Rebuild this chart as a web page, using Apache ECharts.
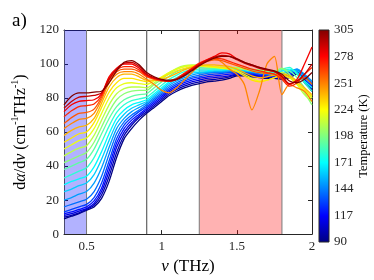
<!DOCTYPE html>
<html><head><meta charset="utf-8">
<script src="https://cdn.jsdelivr.net/npm/echarts@6/dist/echarts.min.js"></script>
<style>html,body{margin:0;padding:0;background:#fff}#c{width:374px;height:280px}</style>
</head><body><div id="c"></div>
<script>
// frequency grid (THz)
const freq = [0.35,0.40,0.45,0.50,0.55,0.60,0.65,0.70,0.75,0.80,0.85,0.90,0.95,1.00,1.05,1.10,1.15,1.20,1.25,1.30,1.35,1.40,1.45,1.50,1.55,1.60,1.65,1.70,1.75,1.80,1.85,1.90,1.95,2.00];
// temperatures (K)
const temps = [90,100,110,120,130,140,150,160,170,180,190,200,210,220,230,240,250,260,270,280,290,305];
// dα/dν curves, one per temperature
const t090 = [9,10.5,12,14,16,21,31,45,56,62,67,71,74.5,78,81.5,84,86,87.5,88.5,89.5,90,90.5,91.5,93,93,92.5,92,91.5,91.5,91,92,94,89,84];
const t100 = [10,11,12.5,14.5,17,23,34,48,58,64,68.5,72,75.5,79,82.5,85,87,88.5,89.5,90.5,91,91.5,92.5,93.5,93.5,93,92.5,92,92,91.5,93,95,90,85];
const t110 = [11,12,13.5,15,18,25,37,51,60,65.5,69.5,73,76.5,80,83.5,86,88,89.5,90.5,91.5,92,92.5,93,94,94,93.5,93,92.5,92,92,93.5,95.5,91,86];
const t120 = [12,13,14.5,16,19.5,27,40,53.5,62,67,70.5,74,77.5,81,84.5,87,89,90.5,91.5,92.5,93,93.5,94,94.5,94.5,94,93.5,93,92.5,93,94,96,92,87];
const t130 = [13,14.5,16,17.5,21.5,30,43,56,64,68.5,72,75,78.5,82,85.5,88,90,91.5,92.5,93.5,94,94.5,95,95,95,94.5,94,93.5,93,93.5,95,96.5,93,88];
const t140 = [16,17.5,19,20.5,25,34,47,59,66,70,73,76,79.5,83,86.5,89,91,92.5,93.5,94.5,95,95,95.5,95.5,95.5,95,94.5,94,93.5,94,95.5,97,93.5,89];
const t150 = [20,21.5,23.5,25,30,39,51,62,68,72,74.5,77,80.5,84,87.5,90,92,93.5,94.5,95,95.5,95.5,96,96,96,95.5,95,94.5,94,94.5,96,97,94,90];
const t160 = [25,26.5,28.5,30,35,44,55,65,70.5,74,76,78,81.5,85,88.5,91,93,94.5,95,95.5,96,96,96.5,96.5,96,95.5,95,94.5,94.5,95,96,96,92,88];
const t170 = [29,31,32.5,34,39.5,48.5,59,68,73,76,77.5,79,82.5,86,89.5,92,94,95.5,96,96,96.5,96.5,97,97,96.5,96,95.5,95,95,96,97,95,90,86];
const t180 = [33,35,37,39,45,54,63.5,71.5,76,78.5,79.5,80.5,84,87.5,91,93.5,95.5,96.5,97,97,97,97,97.5,97.5,97,96.5,96,95.5,95.5,97,98,94,89,84];
const t190 = [38,40,42,44,50,59,68,75,79,81,82,82.5,86,89.5,93,95.5,97,98,98,97.5,97.5,97.5,97.5,97.5,97,96.5,96,95.5,95.5,97,96,92,86,80];
const t200 = [42,44,46,48,54,63,72,79,82.5,84,84.5,84.5,88,91,94.5,97,98.5,99,99,98.5,98,98,98,98,97.5,97,96.5,96,96,97.5,94,89,83,76];
const t210 = [46,48.5,50.5,52,58,67,76,82.5,85.5,86.5,86.5,86,89,92,95,97.5,99,99.5,99.5,99,98.5,98,98,97.5,97,96,95,94.5,94,95,93,88,82,78];
const t220 = [50,52.5,55,56.5,62,71,80,86,88.5,89,88.5,88,90,92.5,95,97,98.5,99,99,98.5,98,97.5,97,96,94,91.5,90,90.5,92,93,92,88,84,80];
const t230 = [54,56.5,59,60,65.5,74.5,83.5,89,91.5,91.5,90.5,89.5,90.5,92,94,96,97.5,98.5,99,99,98.5,98,97,95.5,93,90.5,89.5,90.5,92,93.5,92,89,85,81];
const t240 = [58,61,63,64,68,77,86.5,92,94,94,92.5,90.5,90.5,91,92.5,94.5,96.5,98,99,99.5,99.5,99,98.5,97,95,93,92,92.5,93.5,94,93,90,86,82];
const t250 = [62,65,67.5,68,71,79,89,94,95.5,95.5,94,91,88,84.5,83,86,90.5,95,99,102,103.5,101,97,94,88,73,84,100,104.5,82,88,86,84,78];
const t260 = [65,68.5,71,71.5,73.5,80.5,90.5,95.5,97,97,95.5,92.5,91,90,90,91.5,94,97,99.5,101.5,102.5,102,100.5,99,97.5,96,95,94.5,94,92,88,90,92,88];
const t270 = [69,72.5,75,75.5,76.5,81.5,92,96.5,98.5,98.5,96.5,93,91.5,90.5,90,91.5,94.5,97.5,100.5,102.5,103.5,103,101.5,100,98.5,97,96,95,94,91,87,89,94,98];
const t280 = [72,76,78,78.5,79,82.5,92.5,97.5,100,100,97.5,93.5,91.5,90.5,90,91,94,97,100,102.5,104.5,106.5,106,103,101,99.5,98,96.5,95.5,93,88,91,100,110];
const t290 = [74,78,80.5,81,81.5,83,91,97,100.5,101,98.5,94,92,90.5,90,91,93.5,96.5,99.5,102,104,105,104.5,102.5,100.5,99,97.5,96.5,95.5,92.5,88.5,90,94,100];
const t305 = [76,81,83,83,83.5,84,89,96,101,102,99.5,95,92.5,91,90.5,91,93,96,99,101.5,103.5,104.5,104.5,103,101,99.5,98,97,96,94,90,89,91,95];
const curves = [t090,t100,t110,t120,t130,t140,t150,t160,t170,t180,t190,t200,t210,t220,t230,t240,t250,t260,t270,t280,t290,t305];
// shaded bands and marker (THz)
const blueBand = [0.35, 0.5];
const redBand = [1.25, 1.8];
const markerFreq = 0.9;
// axis ticks
const xTicks = [0.5, 1, 1.5, 2];
const cbTicks = [90,117,144,171,198,224,251,278,305];
const tMin = 90, tMax = 305;
const yMin = 0, yMax = 120;

const FONT = 'Liberation Serif';
const AX = '#262626';
function clamp(v){return Math.max(0, Math.min(1, v));}
function jet(t){
  const r = clamp(1.5 - Math.abs(4*t - 3)), g = clamp(1.5 - Math.abs(4*t - 2)), b = clamp(1.5 - Math.abs(4*t - 1));
  return 'rgb(' + Math.round(r*255) + ',' + Math.round(g*255) + ',' + Math.round(b*255) + ')';
}

const chart = echarts.init(document.getElementById('c'), null, {renderer:'canvas'});

const lineSeries = curves.map((vals, k) => ({
  type: 'line', xAxisIndex: 0, yAxisIndex: 0, z: 2, clip: false,
  data: freq.map((f, j) => [f, vals[j]]),
  showSymbol: false, smooth: 0.25, silent: true, animation: false,
  lineStyle: {width: 1.3, color: jet((temps[k] - tMin) / (tMax - tMin))}
}));

function bandRender(color, op){
  return function(params, api){
    const p0 = api.coord([api.value(0), yMax]);
    const p1 = api.coord([api.value(1), yMin]);
    return {type:'group', children:[
      {type:'rect', shape:{x:p0[0], y:p0[1], width:p1[0]-p0[0], height:p1[1]-p0[1]}, style:{fill:color, opacity:op}},
      {type:'line', shape:{x1:p0[0], y1:p0[1], x2:p0[0], y2:p1[1]}, style:{stroke:'#7a7a7a', lineWidth:1}},
      {type:'line', shape:{x1:p1[0], y1:p0[1], x2:p1[0], y2:p1[1]}, style:{stroke:'#7a7a7a', lineWidth:1}}
    ]};
  };
}

const stops = [0,0.125,0.375,0.625,0.875,1].map(t => ({offset: 1 - t, color: jet(t)}));

const option = {
  animation: false,
  title: {text:'a)', left: 12, top: 12, padding: 0, textStyle:{fontFamily: FONT, fontSize: 19, fontWeight:'normal', color:'#000'}},
  grid: [
    {left: 64, top: 30, width: 248, height: 212},
    {left: 319, top: 30, width: 10, height: 212}
  ],
  xAxis: [
    {gridIndex:0, type:'value', position:'bottom', min:0.35, max:2,
     name:'{i|ν}{r| (THz)}', nameLocation:'middle', nameGap: 21,
     nameTextStyle:{rich:{i:{fontFamily:FONT, fontSize:17, fontStyle:'italic', color:'#000'}, r:{fontFamily:FONT, fontSize:17, color:'#000'}}},
     axisLine:{show:true, onZero:false, lineStyle:{color:AX, width:1}},
     axisTick:{show:true, inside:true, length:4, customValues: xTicks, lineStyle:{color:AX}},
     axisLabel:{show:true, customValues: xTicks, margin: 6, fontFamily:FONT, fontSize:13, color:AX, formatter: v => String(v)},
     splitLine:{show:false}},
    {gridIndex:0, type:'value', position:'top', min:0.35, max:2,
     axisLine:{show:true, onZero:false, lineStyle:{color:AX, width:1}},
     axisTick:{show:true, inside:true, length:4, customValues: xTicks, lineStyle:{color:AX}},
     axisLabel:{show:false}, splitLine:{show:false}},
    {gridIndex:1, type:'value', min:0, max:1, show:false}
  ],
  yAxis: [
    {gridIndex:0, type:'value', position:'left', min:yMin, max:yMax, interval:20,
     name:'{r|d}{i|α}{r|/d}{i|ν}{r| (cm}{s|-1}{r|THz}{s|-1}{r|)}', nameLocation:'middle', nameGap: 26, nameRotate: 90,
     nameTextStyle:{rich:{
       r:{fontFamily:FONT, fontSize:16, color:'#000', lineHeight:20},
       i:{fontFamily:FONT, fontSize:16, fontStyle:'italic', color:'#000', lineHeight:20},
       s:{fontFamily:FONT, fontSize:10, color:'#000', lineHeight:12, verticalAlign:'top'}}},
     axisLine:{show:true, onZero:false, lineStyle:{color:AX, width:1}},
     axisTick:{show:true, inside:true, length:4, lineStyle:{color:AX}},
     axisLabel:{show:true, margin: 5, fontFamily:FONT, fontSize:13, color:AX},
     splitLine:{show:false}},
    {gridIndex:0, type:'value', position:'right', min:yMin, max:yMax, interval:20,
     axisLine:{show:true, onZero:false, lineStyle:{color:AX, width:1}},
     axisTick:{show:true, inside:true, length:4, lineStyle:{color:AX}},
     axisLabel:{show:false}, splitLine:{show:false}},
    {gridIndex:1, type:'value', position:'right', min:tMin, max:tMax,
     name:'Temperature (K)', nameLocation:'middle', nameGap: 24, nameRotate: 90,
     nameTextStyle:{fontFamily:FONT, fontSize:12.5, color:'#000'},
     axisLine:{show:false}, axisTick:{show:false},
     axisLabel:{show:true, customValues: cbTicks, margin: 5, fontFamily:FONT, fontSize:13, color:AX},
     splitLine:{show:false}}
  ],
  series: [
    {type:'custom', xAxisIndex:0, yAxisIndex:0, z:1, silent:true, clip:true,
     data:[redBand], renderItem: bandRender('#ff0000', 0.3)},
    ...lineSeries,
    {type:'custom', xAxisIndex:0, yAxisIndex:0, z:2, silent:true, clip:true,
     data:[blueBand], renderItem: bandRender('#0000ff', 0.3)},
    {type:'custom', xAxisIndex:0, yAxisIndex:0, z:2, silent:true, clip:true,
     data:[[markerFreq]], renderItem: function(params, api){
       const a = api.coord([api.value(0), yMin]), b = api.coord([api.value(0), yMax]);
       return {type:'line', shape:{x1:a[0], y1:a[1], x2:b[0], y2:b[1]}, style:{stroke:'#6e6e6e', lineWidth:1.3}};
     }},
    {type:'custom', xAxisIndex:2, yAxisIndex:2, silent:true, clip:false,
     data:[[0]], renderItem: function(params, api){
       const p0 = api.coord([0, tMax]), p1 = api.coord([1, tMin]);
       return {type:'rect', shape:{x:p0[0], y:p0[1], width:p1[0]-p0[0], height:p1[1]-p0[1]},
         style:{fill: new echarts.graphic.LinearGradient(0,0,0,1, stops), stroke: AX, lineWidth:1}};
     }}
  ]
};
chart.setOption(option);
</script>
</body></html>
